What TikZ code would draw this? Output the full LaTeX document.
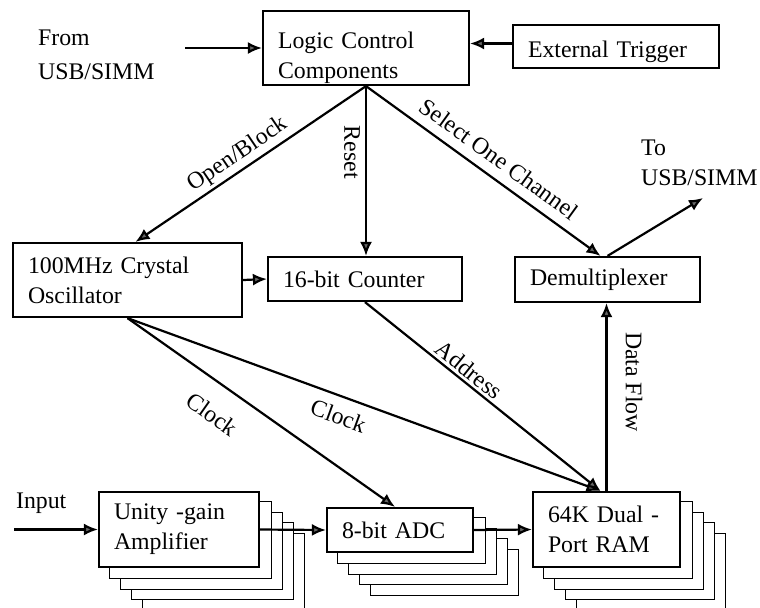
\documentclass[tikz,border=0pt]{standalone}
\usepackage{fontspec}
\setmainfont{Liberation Serif}
\usetikzlibrary{positioning}
\usetikzlibrary{arrows.meta}
\usetikzlibrary{backgrounds}

\begin{document}
\begin{tikzpicture}[x=0.5pt, y=-0.5pt, line width=1.1pt,
    every node/.style={font=\fontsize{11.9}{15}\selectfont},
    blk/.style={draw, fill=white, inner xsep=7.5pt, inner ysep=0pt, align=left},
    lbl/.style={inner sep=0pt, align=left},
    arr/.style={-{Latex[length=7pt,width=6pt,fill=black!60]}},
    rarr/.style={{Latex[length=7pt,width=6pt,fill=black!60]}-}]

\useasboundingbox (0,0) rectangle (760,607);

% Top row
\node[blk, text width=88pt, minimum height=37pt] (logic) at (366,48) {\rule{0pt}{18pt}Logic Control\\Components};
\node[blk, text width=88pt, minimum height=21.5pt] (trig) at (616,46.5) {\rule{0pt}{13.5pt}External Trigger};
\node[lbl, anchor=west] (usbin) at (37,55) {From\\[2pt]USB/SIMM};
\coordinate (srcin) at (185,48);

% Middle row
\node[blk, text width=99.5pt, minimum height=37pt] (osc) at (127.5,280) {100MHz Crystal\\Oscillator};
\node[blk, text width=82pt, minimum height=22pt] (count) at (365,279) {16-bit Counter};
\node[blk, text width=77.5pt, minimum height=22.5pt] (demux) at (607.5,279.5) {Demultiplexer};
\node[lbl, anchor=west] (usbout) at (640,163) {To\\USB/SIMM};
\coordinate (dst) at (703,198);

% Bottom row
\node[blk, text width=65pt, minimum height=37.5pt] (amp) at (179,529.5) {Unity -gain\\Amplifier};
\node[blk, text width=58pt, minimum height=22pt] (adc) at (400,530) {8-bit ADC};
\node[blk, text width=58.5pt, minimum height=37.5pt] (ram) at (606.5,529.5) {64K Dual -\\Port RAM};
\node[lbl, anchor=base west] (inp) at (15,508) {Input};
\coordinate (src) at (14,529.5);

% Stacked copies behind
\begin{scope}[on background layer]
\clip (0,0) rectangle (760,607);
\foreach \b in {amp,adc,ram} {
  \foreach \k in {4,3,2,1} {
    \draw[fill=white] ([shift={(11*\k,10.5*\k)}]\b.south west) rectangle ([shift={(11*\k,10.5*\k)}]\b.north east);
  }
}
\end{scope}

% Control lines
\draw[arr] (srcin) -- (srcin -| logic.west);
\draw[arr] ([yshift=1.5pt]trig.west) -- ([yshift=1.5pt]trig.west -| logic.east);
\draw[arr] (logic.south) -- ([xshift=4pt]osc.north) node[pos=0.52, above, sloped, inner sep=1.5pt] {Open/Block};
\draw[arr] (logic.south) -- (logic.south |- count.north) node[pos=0.39, below, sloped, inner sep=2.5pt] {Reset};
\draw[arr] (logic.south) -- ([xshift=-3.5pt]demux.north) node[pos=0.52, above, sloped, inner sep=4.8pt] {Select One Channel};
\draw[arr] (demux.north) -- (dst);
\draw[arr] (osc.east) -- (count.west);

% Clock, address and data
\draw[arr] (osc.south) -- ([xshift=-2.5pt]adc.north) node[pos=0.38, below, sloped, inner sep=10pt] {Clock};
\draw[arr] (osc.south) -- ([xshift=-3pt]ram.north) node[pos=0.46, below, sloped, inner sep=5pt] {Clock};
\draw[arr] (count.south) -- ([xshift=-3pt]ram.north) node[pos=0.41, above, sloped, inner sep=1.4pt] {Address};
\draw[rarr] (ram.north |- demux.south) -- (ram.north) node[pos=0.42, above, sloped, inner sep=9pt] {Data Flow};

% Signal path
\draw[arr] (src) -- (amp.west);
\draw[arr] (amp.east) -- (adc.west);
\draw[arr] (adc.east) -- (ram.west);

\end{tikzpicture}
\end{document}
